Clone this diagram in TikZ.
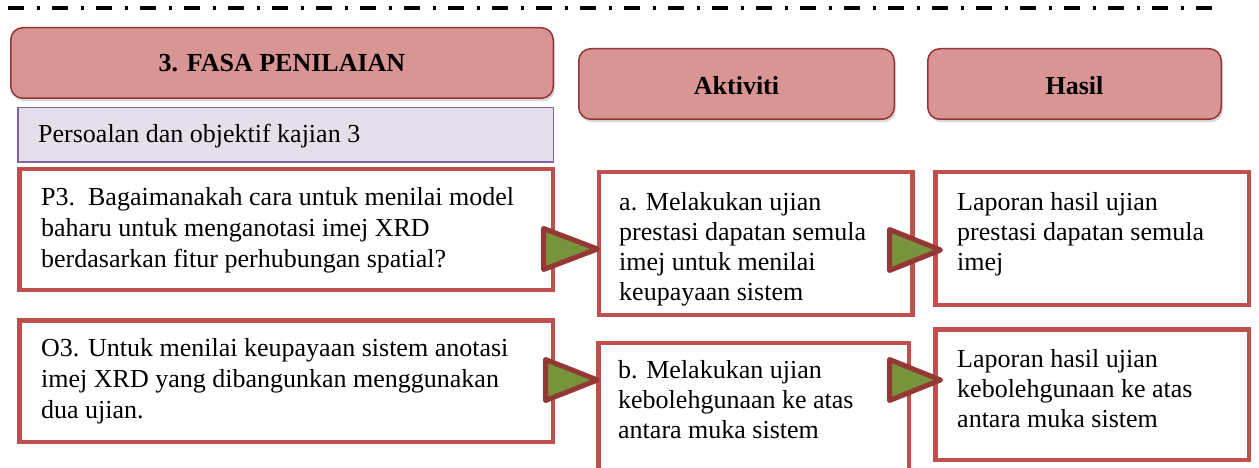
\documentclass[tikz,border=0pt]{standalone}
\usepackage{fontspec}
\setmainfont{Liberation Serif}
\usetikzlibrary{shadows}
\definecolor{hdrfill}{HTML}{D99594}
\definecolor{hdrline}{HTML}{943634}
\definecolor{purfill}{HTML}{E5DFEC}
\definecolor{purline}{HTML}{8064A2}
\definecolor{redline}{HTML}{C0504D}
\definecolor{trifill}{HTML}{77933C}
\definecolor{triline}{HTML}{953735}
\tikzset{
  hdrbox/.style={draw=hdrline, fill=hdrfill, line width=1.5pt, rounded corners=12pt,
    drop shadow={shadow xshift=1.5pt, shadow yshift=-3pt, opacity=0.3},
    inner sep=0pt, outer sep=0pt, anchor=north west},
  purbox/.style={draw=purline, fill=purfill, line width=1.5pt, inner sep=0pt, outer sep=0pt, anchor=north west},
  redbox/.style={draw=redline, fill=white, line width=4.5pt, inner sep=0pt, outer sep=0pt, anchor=north west},
  tri/.style={draw=triline, fill=trifill, line width=5pt, line join=round},
  hdrtxt/.style={anchor=base, inner sep=0pt, font=\fontsize{26}{31}\selectfont\bfseries},
  ltxt/.style={anchor=north west, inner sep=0pt, align=left, font=\fontsize{26}{31}\selectfont},
  rtxt/.style={anchor=north west, inner sep=0pt, align=left, font=\fontsize{26}{30}\selectfont},
  sepline/.style={line width=4pt, dash pattern=on 16pt off 13pt on 3pt off 12pt}
}
\begin{document}
\begin{tikzpicture}[x=1pt,y=-1pt]
\clip (0,0) rectangle (1259,468);
\fill[white] (0,0) rectangle (1259,468);
% separator line
\coordinate (ls) at (8,8);
\coordinate (le) at (1213,8);
\draw[sepline] (ls) -- (le);
% headers
\node[hdrbox, minimum width=542.5pt, minimum height=70.5pt] (fasa) at (10.75,27.75) {};
\node[hdrbox, minimum width=315.5pt, minimum height=70.5pt] (akt) at (578.75,48.75) {};
\node[hdrbox, minimum width=293.5pt, minimum height=70.5pt] (has) at (927.75,48.75) {};
\node[hdrtxt] (fasat) at (282,72) {3. FASA PENILAIAN};
\node[hdrtxt] (aktt) at (736.5,95) {Aktiviti};
\node[hdrtxt] (hast) at (1074.5,95) {Hasil};
% persoalan
\node[purbox, minimum width=535.5pt, minimum height=54.5pt] (pers) at (17.75,107.75) {};
\node[anchor=base west, inner sep=0pt, font=\fontsize{26}{31}\selectfont] (perst) at (38,143) {Persoalan dan objektif kajian 3};
% red boxes
\node[redbox, minimum width=533.5pt, minimum height=120.5pt] (p3) at (19.25,169.25) {};
\node[redbox, minimum width=533.5pt, minimum height=121.5pt] (o3) at (19.25,320.25) {};
\node[redbox, minimum width=313.5pt, minimum height=142.5pt] (a) at (598.75,172.25) {};
\node[redbox, minimum width=310.5pt, minimum height=150pt] (b) at (598.25,343) {};
\node[redbox, minimum width=313.5pt, minimum height=132.5pt] (h1) at (935.25,172.25) {};
\node[redbox, minimum width=313.5pt, minimum height=130.5pt] (h2) at (935.25,329.25) {};
% texts
\node[ltxt] (p3t) at (41,183.3) {\strut P3.\ \ Bagaimanakah cara untuk menilai model\\baharu untuk menganotasi imej XRD\\berdasarkan fitur perhubungan spatial?};
\node[ltxt] (o3t) at (41,334.3) {\strut O3. Untuk menilai keupayaan sistem anotasi\\imej XRD yang dibangunkan menggunakan\\dua ujian.};
\node[rtxt] (at) at (619,189) {\strut a. Melakukan ujian\\prestasi dapatan semula\\imej untuk menilai\\keupayaan sistem};
\node[rtxt] (bt) at (618,357) {\strut b. Melakukan ujian\\kebolehgunaan ke atas\\antara muka sistem};
\node[rtxt] (h1t) at (957,189) {\strut Laporan hasil ujian\\prestasi dapatan semula\\imej};
\node[rtxt] (h2t) at (957,346) {\strut Laporan hasil ujian\\kebolehgunaan ke atas\\antara muka sistem};
% arrow triangles
\draw[tri] (543.5,228.5) -- (543.5,269.5) -- (597.5,249) -- cycle;
\draw[tri] (889.5,229.5) -- (889.5,270.5) -- (940.5,250) -- cycle;
\draw[tri] (545.5,359.5) -- (545.5,400.5) -- (597.5,380) -- cycle;
\draw[tri] (889.5,359.5) -- (889.5,400.5) -- (940.5,380) -- cycle;
\end{tikzpicture}
\end{document}
